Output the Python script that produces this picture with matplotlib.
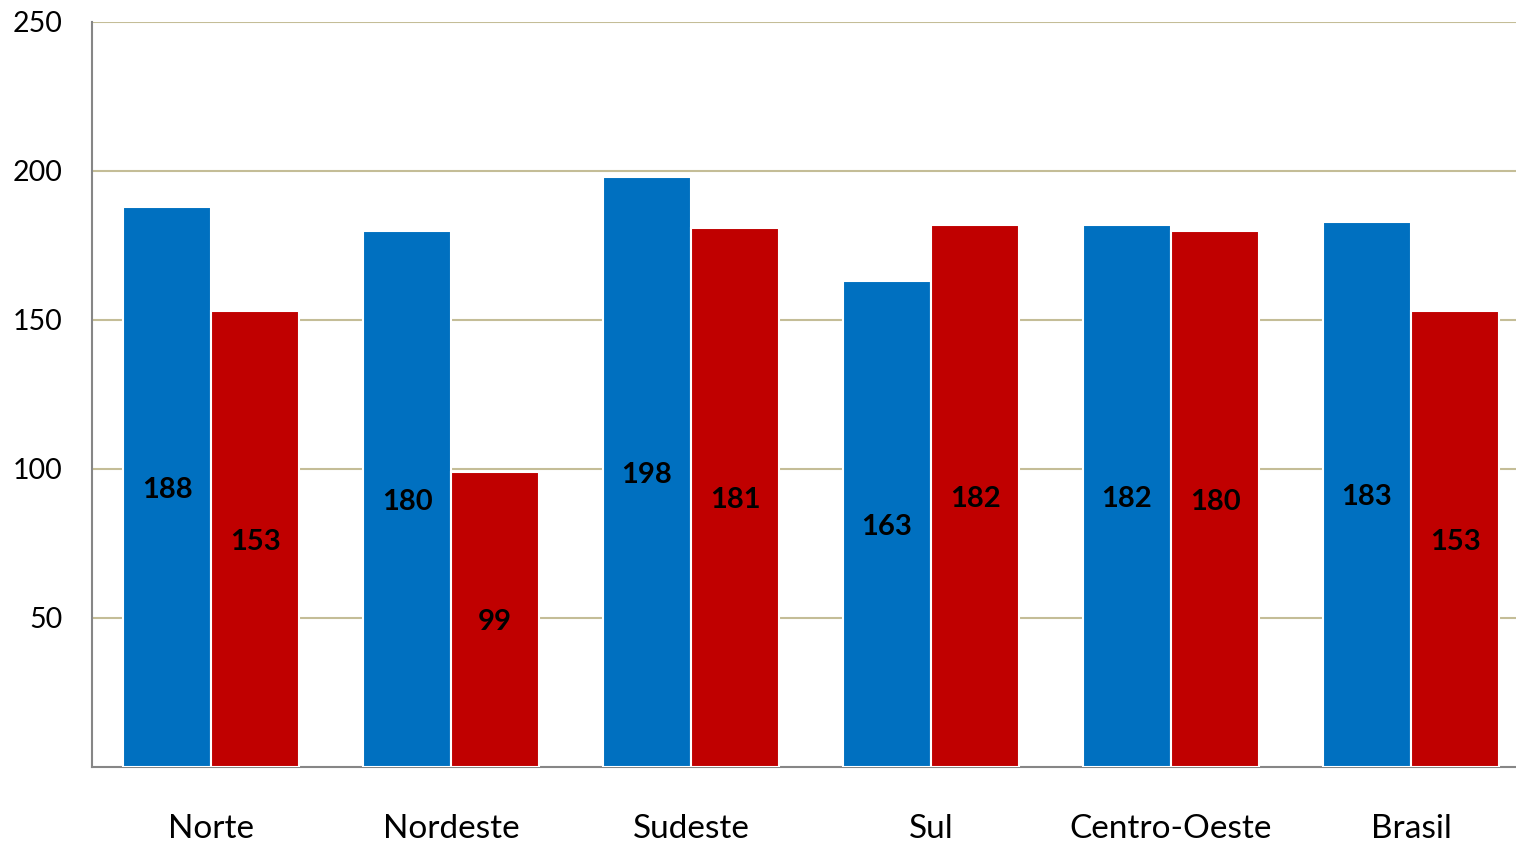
import numpy as np
import matplotlib.pyplot as plt

regioes = ['Norte', 'Nordeste', 'Sudeste', 'Sul', 'Centro-Oeste', 'Brasil']
serie_azul = [188, 180, 198, 163, 182, 183]
serie_verm = [153, 99, 181, 182, 180, 153]
yticks = [50, 100, 150, 200, 250]

plt.rcParams['font.family'] = ['Lato', 'DejaVu Sans']

fig = plt.figure(figsize=(15.16, 8.43), dpi=100)
ax = fig.add_axes([92/1516, 76/843, 1424/1516, 745/843])

x = np.arange(len(regioes))
w = 0.367
b1 = ax.bar(x - w/2, serie_azul, w, color='#0070C0', edgecolor='white', linewidth=1.5, zorder=3)
b2 = ax.bar(x + w/2, serie_verm, w, color='#C00000', edgecolor='white', linewidth=1.5, zorder=3)

for bars, vals in ((b1, serie_azul), (b2, serie_verm)):
    for r, v in zip(bars, vals):
        ax.text(r.get_x() + r.get_width()/2, v/2 - 1, str(v), ha='center', va='center',
                fontsize=21, fontweight='bold', color='black', zorder=4)

ax.set_xlim(-0.496, -0.496 + 1424/240)
ax.set_ylim(0, 250)
ax.set_yticks(yticks)
ax.set_yticklabels([str(t) for t in yticks], fontsize=20.5)
ax.set_xticks(x)
ax.set_xticklabels(regioes, fontsize=24)
ax.tick_params(axis='y', length=0, pad=21.5)
ax.tick_params(axis='x', length=0, pad=34)
ax.grid(axis='y', color='#C4BD97', linewidth=1.5, zorder=0)
ax.set_axisbelow(True)
for s in ['top', 'right']:
    ax.spines[s].set_visible(False)
for s in ['left', 'bottom']:
    ax.spines[s].set_color('#868686')
    ax.spines[s].set_linewidth(1.5)

fig.savefig('out.png', dpi=100)
